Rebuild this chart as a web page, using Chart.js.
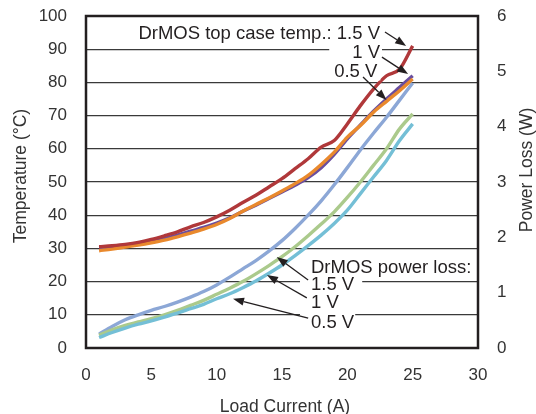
<!DOCTYPE html>
<html>
<head>
<meta charset="utf-8">
<script src="https://cdn.jsdelivr.net/npm/chart.js"></script>
<style>
  html, body { margin: 0; padding: 0; background: #fff; }
  canvas { display: block; }
</style>
</head>
<body>
<canvas id="drmosChart" width="536" height="414"></canvas>
<script>
// load current (A)
const loadCurrent = [1, 2, 3, 4, 5, 6, 7, 8, 9, 10, 11, 12, 13, 14, 15, 16, 17, 18, 19, 20, 21, 22, 23, 24, 25];

// DrMOS top case temperature (°C)
const caseTemp15 = [30.5, 30.8, 31.2, 31.8, 32.7, 33.8, 35, 36.5, 37.8, 39.5, 41.5, 43.8, 46, 48.5, 51, 54, 57, 60.5, 62.5, 67.5, 73, 78, 82, 84, 91];
const caseTemp10 = [30.2, 30.6, 31, 31.5, 32.2, 33, 34, 35.2, 36.3, 37.6, 39.2, 41.2, 43, 45, 47, 49, 51.3, 54.3, 58.3, 63, 67.2, 71.3, 75, 78.5, 82];
const caseTemp05 = [29.3, 29.8, 30.4, 31, 31.7, 32.5, 33.5, 34.6, 35.8, 37.2, 39, 41.2, 43.2, 45.2, 47.3, 49.5, 52, 55.3, 59, 63.5, 67, 71, 74.3, 77.5, 81];

// DrMOS power loss (W)
const powerLoss15 = [0.25, 0.39, 0.51, 0.6, 0.68, 0.75, 0.83, 0.92, 1.02, 1.14, 1.28, 1.43, 1.58, 1.75, 1.94, 2.16, 2.4, 2.66, 2.95, 3.26, 3.58, 3.88, 4.17, 4.48, 4.79];
const powerLoss10 = [0.23, 0.33, 0.41, 0.47, 0.53, 0.6, 0.68, 0.77, 0.86, 0.97, 1.08, 1.2, 1.34, 1.49, 1.65, 1.83, 2.03, 2.24, 2.46, 2.72, 3.0, 3.3, 3.6, 3.96, 4.23];
const powerLoss05 = [0.19, 0.28, 0.36, 0.43, 0.49, 0.56, 0.63, 0.71, 0.79, 0.89, 0.98, 1.09, 1.21, 1.35, 1.5, 1.67, 1.85, 2.04, 2.25, 2.49, 2.79, 3.09, 3.39, 3.75, 4.05];

const FONT = "'Liberation Sans', Arial, Helvetica, sans-serif";
const INK = '#231f20';

const pts = ys => loadCurrent.map((x, i) => ({ x: x, y: ys[i] }));

const line = (label, ys, color, axis) => ({
  label: label,
  data: pts(ys),
  borderColor: color,
  borderWidth: 3.4,
  pointRadius: 0,
  cubicInterpolationMode: 'monotone',
  fill: false,
  yAxisID: axis
});

// labels + arrows, placed in data units (x: A, y: °C)
const notes = [
  { text: 'DrMOS top case temp.: 1.5 V', x: 22.5, y: 93.1, align: 'right' },
  { text: '1 V', x: 22.5, y: 87.5, align: 'right', padL: 23, padR: 2 },
  { text: '0.5 V', x: 22.3, y: 81.5, align: 'right' },
  { text: 'DrMOS power loss:', x: 17.22, y: 22.7, align: 'left' },
  { text: '1.5 V', x: 17.22, y: 17.5, align: 'left', padL: 11, padR: 8 },
  { text: '1 V', x: 17.22, y: 12.0, align: 'left' },
  { text: '0.5 V', x: 17.22, y: 6.0, align: 'left', padL: 11, padR: 1 }
];
const arrows = [
  [22.88, 95.2, 24.5, 91.0],
  [22.65, 87.6, 24.65, 82.5],
  [21.2, 81.6, 23.0, 74.7],
  [17.0, 20.5, 14.6, 27.4],
  [16.9, 15.1, 13.85, 22.0],
  [17.0, 9.0, 11.25, 14.8]
];

function drawArrow(ctx, x1, y1, x2, y2) {
  const a = Math.atan2(y2 - y1, x2 - x1);
  const c = Math.cos(a), s = Math.sin(a);
  const head = 11, half = 4;
  ctx.beginPath();
  ctx.moveTo(x1, y1);
  ctx.lineTo(x2 - head * c, y2 - head * s);
  ctx.stroke();
  ctx.beginPath();
  ctx.moveTo(x2, y2);
  ctx.lineTo(x2 - head * c + half * s, y2 - head * s - half * c);
  ctx.lineTo(x2 - head * c - half * s, y2 - head * s + half * c);
  ctx.closePath();
  ctx.fill();
}

const decor = {
  id: 'decor',
  afterDatasetsDraw(chart) {
    const ctx = chart.ctx;
    const xs = chart.scales.x, ys = chart.scales.y;
    const area = chart.chartArea;
    ctx.save();
    ctx.font = '18.5px ' + FONT;
    ctx.textBaseline = 'alphabetic';
    notes.forEach(n => {
      const px = xs.getPixelForValue(n.x);
      const py = ys.getPixelForValue(n.y);
      const w = ctx.measureText(n.text).width;
      const left = n.align === 'right' ? px - w : px;
      const pl = n.padL != null ? n.padL : 3;
      const pr = n.padR != null ? n.padR : 3;
      ctx.fillStyle = '#fff';
      ctx.fillRect(left - pl, py - 16, w + pl + pr, 19);
      ctx.fillStyle = INK;
      ctx.textAlign = 'left';
      ctx.fillText(n.text, left, py);
    });
    ctx.strokeStyle = INK;
    ctx.fillStyle = INK;
    ctx.lineWidth = 1.3;
    arrows.forEach(a => {
      drawArrow(ctx, xs.getPixelForValue(a[0]), ys.getPixelForValue(a[1]),
        xs.getPixelForValue(a[2]), ys.getPixelForValue(a[3]));
    });

    // frame
    ctx.lineWidth = 2.5;
    ctx.strokeRect(area.left, area.top, area.right - area.left, area.bottom - area.top);

    // axis titles
    ctx.font = '17.5px ' + FONT;
    ctx.fillStyle = '#333';
    ctx.textAlign = 'center';
    ctx.textBaseline = 'alphabetic';
    ctx.fillText('Load Current (A)', (area.left + area.right) / 2 + 3, 411.5);
    ctx.textBaseline = 'middle';
    ctx.save();
    ctx.translate(21, 176);
    ctx.rotate(-Math.PI / 2);
    ctx.fillText('Temperature (°C)', 0, 0);
    ctx.restore();
    ctx.save();
    ctx.translate(527, 170);
    ctx.rotate(-Math.PI / 2);
    ctx.fillText('Power Loss (W)', 0, 0);
    ctx.restore();
    ctx.restore();
  }
};

const fitSide = w => s => { s.width = w; s.paddingTop = 0; s.paddingBottom = 0; };

new Chart(document.getElementById('drmosChart').getContext('2d'), {
  type: 'line',
  plugins: [decor],
  data: {
    datasets: [
      line('Top case temp. 1.5 V', caseTemp15, '#b0383a', 'y'),
      line('Top case temp. 0.5 V', caseTemp05, '#e9892d', 'y'),
      line('Top case temp. 1 V', caseTemp10, '#6a4e9e', 'y'),
      line('Power loss 0.5 V', powerLoss05, '#74bfd6', 'y1'),
      line('Power loss 1 V', powerLoss10, '#abca8c', 'y1'),
      line('Power loss 1.5 V', powerLoss15, '#8ca7d6', 'y1')
    ]
  },
  options: {
    responsive: false,
    animation: false,
    devicePixelRatio: 1,
    layout: { padding: { top: 16, left: 0, right: 0, bottom: 0 } },
    plugins: {
      legend: { display: false },
      tooltip: { enabled: false }
    },
    scales: {
      x: {
        type: 'linear',
        min: 0,
        max: 30,
        afterFit: s => { s.height = 66; s.paddingLeft = 0; s.paddingRight = 0; },
        border: { display: false },
        grid: { display: false },
        ticks: { stepSize: 5, padding: 9, color: '#333', font: { family: FONT, size: 17 } }
      },
      y: {
        position: 'left',
        min: 0,
        max: 100,
        afterFit: fitSide(86),
        border: { display: false },
        grid: { color: '#3a3a3a', lineWidth: 1.2, drawTicks: false },
        ticks: { stepSize: 10, padding: 19, color: '#333', font: { family: FONT, size: 17 } }
      },
      y1: {
        position: 'right',
        min: 0,
        max: 6,
        afterFit: fitSide(58),
        border: { display: false },
        grid: { display: false, drawTicks: false },
        ticks: { stepSize: 1, padding: 19, color: '#333', font: { family: FONT, size: 17 } }
      }
    }
  }
});
</script>
</body>
</html>
